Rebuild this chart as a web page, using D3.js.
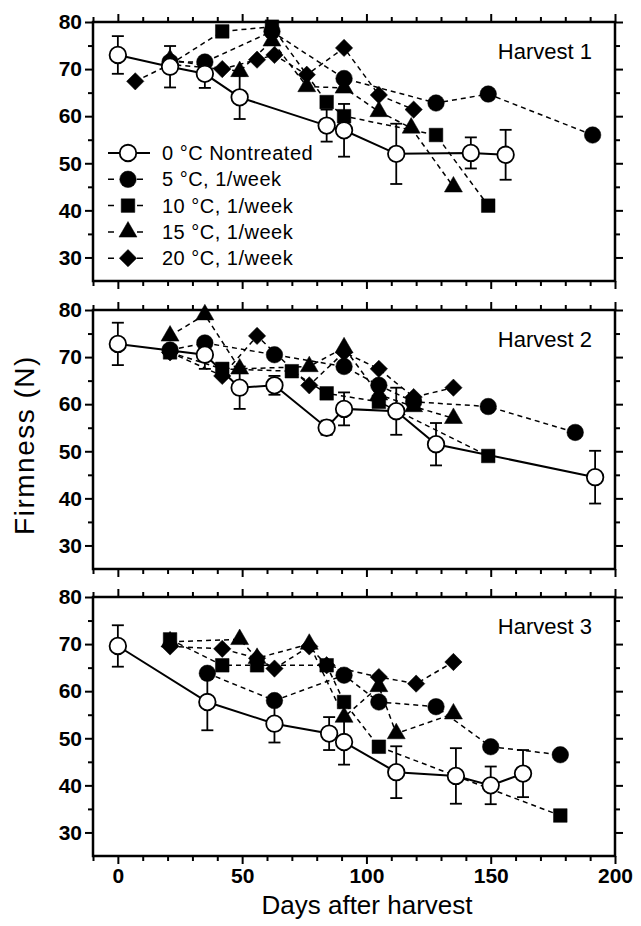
<!DOCTYPE html>
<html>
<head>
<meta charset="utf-8">
<script src="https://cdn.jsdelivr.net/npm/d3@7"></script>
<style>
  body { margin: 0; background: #fff; }
  text { font-family: "Liberation Sans", Arial, sans-serif; }
</style>
</head>
<body>
<svg id="chart" width="641" height="926"></svg>
<script>
const harvests = ["Harvest 1", "Harvest 2", "Harvest 3"];
const seriesLabels = ["0 °C Nontreated", "5 °C, 1/week", "10 °C, 1/week", "15 °C, 1/week", "20 °C, 1/week"];
const yTicks = [30, 40, 50, 60, 70, 80];
const yMinor = [35, 45, 55, 65, 75];
const xTicks = [0, 50, 100, 150, 200];
const xMinor = [-10, 10, 20, 30, 40, 60, 70, 80, 90, 110, 120, 130, 140, 160, 170, 180, 190];

// [day, firmness, sd] for the control, [day, firmness] for the treatments
const h1_0c = [[0, 73, 4], [21, 70.5, 4.4], [35, 69, 3], [49, 64, 4.6], [84, 58, 3.4], [91, 57, 5.6], [112, 52, 6.4], [142, 52.2, 3.3], [156, 51.8, 5.3]];
const h1_5c = [[21, 71.5], [35, 71.5], [62, 78], [91, 68], [128, 62.8], [149, 64.7], [191, 56]];
const h1_10c = [[21, 71], [42, 78], [62, 79], [84, 63], [91, 60], [128, 56], [149, 41]];
const h1_15c = [[21, 72], [49, 69.5], [62, 76], [76, 66.3], [91, 66], [105, 61], [118, 57.5], [135, 45]];
const h1_20c = [[7, 67.4], [21, 71], [42, 70], [56, 72], [63, 73], [76, 68.8], [91, 74.5], [105, 64.5], [119, 61.4]];

const h2_0c = [[0, 72.8, 4.5], [35, 70.5, 3], [49, 63.5, 4.5], [63, 64, 2], [84, 55, 1.5], [91, 59, 3.5], [112, 58.5, 5], [128, 51.5, 4.5], [192, 44.5, 5.6]];
const h2_5c = [[21, 71.5], [35, 73], [63, 70.5], [91, 68], [105, 64], [119, 60.5], [149, 59.5], [184, 54]];
const h2_10c = [[21, 71], [42, 67.5], [70, 67], [84, 62.3], [105, 60.5], [149, 49]];
const h2_15c = [[21, 74.5], [35, 79], [49, 67.5], [77, 68], [91, 72], [105, 62], [119, 59.5], [135, 57]];
const h2_20c = [[21, 71], [42, 66], [56, 74.5], [77, 64], [91, 71], [105, 67.5], [119, 61.5], [135, 63.5]];

const h3_0c = [[0, 69.6, 4.4], [36, 57.7, 6], [63, 53.1, 4], [85, 51, 3.5], [91, 49.2, 4.8], [112, 42.8, 5.5], [136, 42, 5.9], [150, 40, 4], [163, 42.5, 5]];
const h3_5c = [[36, 63.8], [63, 58], [91, 63.4], [105, 57.7], [128, 56.7], [150, 48.2], [178, 46.5]];
const h3_10c = [[21, 71], [42, 65.5], [56, 65.5], [84, 65.5], [91, 57.7], [105, 48.2], [178, 33.6]];
const h3_15c = [[21, 70.5], [49, 71], [56, 67], [77, 70], [91, 54.5], [105, 61], [112, 51], [135, 55.2]];
const h3_20c = [[21, 69.5], [42, 69], [56, 67], [63, 64.8], [77, 69.5], [84, 65.5], [105, 63], [120, 61.6], [135, 66.2]];

const panelData = [
  [h1_0c, h1_5c, h1_10c, h1_15c, h1_20c],
  [h2_0c, h2_5c, h2_10c, h2_15c, h2_20c],
  [h3_0c, h3_5c, h3_10c, h3_15c, h3_20c]
];

const shapes = ["circle", "circle", "square", "triangle", "diamond"];

const svg = d3.select("#chart");

const left = 93, right = 615;
const tops = [22, 310, 597];
const ph = 259;

const x = d3.scaleLinear().domain([-10, 200]).range([left, right]);

function symbolPath(type) {
  if (type == "circle") return d3.symbol().type(d3.symbolCircle).size(215)();
  if (type == "square") return d3.symbol().type(d3.symbolSquare).size(185)();
  if (type == "triangle") return d3.symbol().type(d3.symbolTriangle).size(140)();
  return d3.symbol().type(d3.symbolSquare).size(150)();
}

function drawMarker(sel, type, open) {
  sel.append("path")
    .attr("d", symbolPath(type))
    .attr("transform", type == "diamond" ? "rotate(45)" : null)
    .attr("fill", open ? "#fff" : "#000")
    .attr("stroke", "#000")
    .attr("stroke-width", open ? 1.8 : 0.5);
}

function styleAxis(g) {
  g.select(".domain").remove();
  g.selectAll(".tick line").attr("stroke", "#000").attr("stroke-width", 2);
  g.selectAll(".tick text")
    .attr("fill", "#000")
    .attr("font-family", "'Liberation Sans', Arial, sans-serif")
    .attr("font-size", 21)
    .attr("font-weight", "bold");
}

harvests.forEach((name, i) => {
  const top = tops[i], bottom = top + ph;
  const y = d3.scaleLinear().domain([25, 80]).range([bottom, top]);
  const g = svg.append("g");
  const series = panelData[i];

  // axes, ticks on all four sides pointing out
  g.append("g").attr("transform", `translate(${left},0)`)
    .call(d3.axisLeft(y).tickValues(yTicks).tickSize(8).tickPadding(3)).call(styleAxis);
  g.append("g").attr("transform", `translate(${left},0)`)
    .call(d3.axisLeft(y).tickValues(yMinor).tickSize(5).tickFormat("")).call(styleAxis);
  g.append("g").attr("transform", `translate(${right},0)`)
    .call(d3.axisRight(y).tickValues(yTicks).tickSize(8).tickFormat("")).call(styleAxis);
  g.append("g").attr("transform", `translate(${right},0)`)
    .call(d3.axisRight(y).tickValues(yMinor).tickSize(5).tickFormat("")).call(styleAxis);
  g.append("g").attr("transform", `translate(0,${top})`)
    .call(d3.axisTop(x).tickValues(xTicks).tickSize(8).tickFormat("")).call(styleAxis);
  g.append("g").attr("transform", `translate(0,${top})`)
    .call(d3.axisTop(x).tickValues(xMinor).tickSize(5).tickFormat("")).call(styleAxis);
  const bx = d3.axisBottom(x).tickValues(xTicks).tickSize(8).tickPadding(4);
  if (i < 2) bx.tickFormat("");
  g.append("g").attr("transform", `translate(0,${bottom})`).call(bx).call(styleAxis);
  g.append("g").attr("transform", `translate(0,${bottom})`)
    .call(d3.axisBottom(x).tickValues(xMinor).tickSize(5).tickFormat("")).call(styleAxis);

  g.append("rect")
    .attr("x", left).attr("y", top)
    .attr("width", right - left).attr("height", ph)
    .attr("fill", "none").attr("stroke", "#000").attr("stroke-width", 2.5);

  const line = d3.line().x(d => x(d[0])).y(d => y(d[1]));

  // treatments: dashed lines
  series.slice(1).forEach(s => {
    g.append("path").datum(s)
      .attr("d", line)
      .attr("fill", "none")
      .attr("stroke", "#000")
      .attr("stroke-width", 1.5)
      .attr("stroke-dasharray", "5,4");
  });

  // control: solid line
  g.append("path").datum(series[0])
    .attr("d", line)
    .attr("fill", "none")
    .attr("stroke", "#000")
    .attr("stroke-width", 2);

  // filled markers
  series.slice(1).forEach((s, k) => {
    g.append("g").selectAll("g")
      .data(s)
      .join("g")
      .attr("transform", d => `translate(${x(d[0])},${y(d[1])})`)
      .each(function() { drawMarker(d3.select(this), shapes[k + 1], false); });
  });

  // error bars on the control
  const eb = g.append("g").selectAll("g")
    .data(series[0])
    .join("g")
    .attr("stroke", "#000")
    .attr("stroke-width", 1.8);
  eb.append("line")
    .attr("x1", d => x(d[0])).attr("x2", d => x(d[0]))
    .attr("y1", d => y(d[1] + d[2])).attr("y2", d => y(d[1] - d[2]));
  eb.append("line")
    .attr("x1", d => x(d[0]) - 6).attr("x2", d => x(d[0]) + 6)
    .attr("y1", d => y(d[1] + d[2])).attr("y2", d => y(d[1] + d[2]));
  eb.append("line")
    .attr("x1", d => x(d[0]) - 6).attr("x2", d => x(d[0]) + 6)
    .attr("y1", d => y(d[1] - d[2])).attr("y2", d => y(d[1] - d[2]));

  g.append("g").selectAll("g")
    .data(series[0])
    .join("g")
    .attr("transform", d => `translate(${x(d[0])},${y(d[1])})`)
    .each(function() { drawMarker(d3.select(this), "circle", true); });

  g.append("text")
    .attr("x", 592).attr("y", top + 37)
    .attr("text-anchor", "end")
    .attr("font-size", 22)
    .text(name);

  if (i == 0) {
    const leg = g.append("g").selectAll("g")
      .data(seriesLabels)
      .join("g")
      .attr("transform", (d, k) => `translate(128,${153 + k * 26.3})`);
    leg.append("line")
      .attr("x1", -20).attr("x2", 22)
      .attr("stroke", "#000")
      .attr("stroke-width", (d, k) => k == 0 ? 2 : 1.5)
      .attr("stroke-dasharray", (d, k) => k == 0 ? null : "6,23");
    leg.each(function(d, k) { drawMarker(d3.select(this), shapes[k], k == 0); });
    leg.append("text")
      .attr("x", 34).attr("dy", "0.35em")
      .attr("font-size", 20)
      .attr("letter-spacing", 0.5)
      .text(d => d);
  }
});

svg.append("text")
  .attr("transform", "translate(34,445) rotate(-90)")
  .attr("text-anchor", "middle")
  .attr("font-size", 28)
  .attr("letter-spacing", 1.5)
  .text("Firmness (N)");

svg.append("text")
  .attr("x", 367).attr("y", 914)
  .attr("text-anchor", "middle")
  .attr("font-size", 26)
  .text("Days after harvest");
</script>
</body>
</html>
